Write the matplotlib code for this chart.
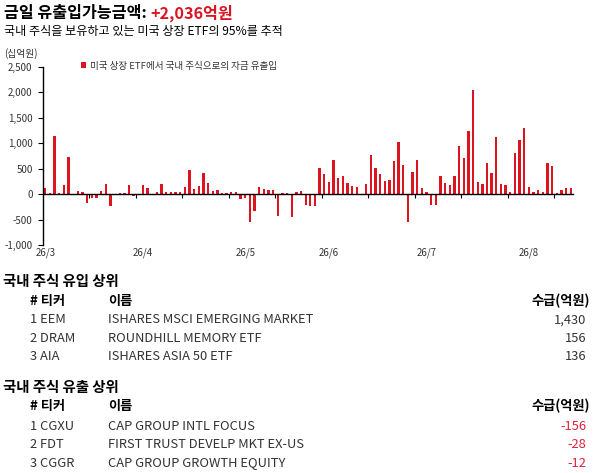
import matplotlib
matplotlib.use("Agg")
import matplotlib.pyplot as plt
from matplotlib.patches import Patch
from matplotlib.ticker import FuncFormatter, FixedLocator
import numpy as np

plt.rcParams['font.family'] = ['Noto Sans CJK KR', 'DejaVu Sans']

# ---------------- data ----------------
title_main = "금일 유출입가능금액: "
title_value = "+2,036억원"
subtitle = "국내 주식을 보유하고 있는 미국 상장 ETF의 95%를 추적"
unit_label = "(십억원)"
legend_label = "미국 상장 ETF에서 국내 주식으로의 자금 유출입"

flows = [
    111, 20, 1150, 30, 183, 735, 0, 62, 42, -180,
    -70, -85, 70, 198, -230, 0, 22, 25, 183, -45,
    0, 183, 125, 0, 42, 198, 42, 42, 42, 42,
    145, 475, 100, 160, 422, 226, 68, 82, 28, 16,
    35, 42, -105, -85, -540, -327, 141, 105, 82, 82,
    -423, 23, 23, -458, 42, 65, -205, -227, -227, 518,
    400, 240, 675, 320, 357, 222, 163, 147, 0, 204,
    773, 514, 400, 265, 280, 660, 1035, 576, -557, 439,
    662, 111, 46, -223, -223, 347, 223, 170, 347, 956,
    720, 1251, 2050, 229, 203, 603, 419, 1133, 203, 170,
    46, 812, 1068, 1303, 144, 39, 85, 39, 622, 557,
    13, 85, 124, 124,
]
month_labels = ["26/3", "26/4", "26/5", "26/6", "26/7", "26/8"]
month_index = [0, 21, 43, 61, 82, 104]
y_ticks = [-1000, -500, 0, 500, 1000, 1500, 2000, 2500]

inflow_title = "국내 주식 유입 상위"
inflow_rank = ["1", "2", "3"]
inflow_ticker = ["EEM", "DRAM", "AIA"]
inflow_name = ["ISHARES MSCI EMERGING MARKET", "ROUNDHILL MEMORY ETF", "ISHARES ASIA 50 ETF"]
inflow_value = ["1,430", "156", "136"]

outflow_title = "국내 주식 유출 상위"
outflow_rank = ["1", "2", "3"]
outflow_ticker = ["CGXU", "FDT", "CGGR"]
outflow_name = ["CAP GROUP INTL FOCUS", "FIRST TRUST DEVELP MKT EX-US", "CAP GROUP GROWTH EQUITY"]
outflow_value = ["-156", "-28", "-12"]

col_headers = ["# 티커", "이름", "수급(억원)"]

# ---------------- style ----------------
RED = "#DC1420"
TXT = "#333333"
W, H = 594, 473

fig = plt.figure(figsize=(W / 100, H / 100), dpi=100)


def fy(py):
    return 1 - py / H


def fx(px):
    return px / W


# title
t1 = fig.text(fx(4), fy(13), title_main, fontsize=11.6, fontweight='bold', color='black', va='center', ha='left')
fig.canvas.draw()
bb = t1.get_window_extent()
fig.text(bb.x1 / W, fy(13), title_value, fontsize=11.6, fontweight='bold', color=RED, va='center', ha='left')
fig.text(fx(4), fy(31), subtitle, fontsize=8.7, color='black', va='center', ha='left')

# chart
ax = fig.add_axes([fx(43), fy(245), (573 - 43) / W, (245 - 67) / H])
n = len(flows)
x = np.arange(n)
ax.bar(x, flows, width=0.5, color=RED, zorder=2)
ax.set_xlim(-0.5, n - 0.5)
ax.set_ylim(y_ticks[0], y_ticks[-1])
ax.set_yticks(y_ticks)
ax.yaxis.set_major_formatter(FuncFormatter(lambda v, p: f"{int(v):,}"))
ax.tick_params(axis='y', length=3.5, width=0.8, direction='out', pad=4, labelsize=7, labelcolor=TXT)

for s in ['top', 'right']:
    ax.spines[s].set_visible(False)
ax.spines['left'].set_linewidth(1.0)
ax.spines['bottom'].set_position(('data', 0))
ax.spines['bottom'].set_linewidth(1.0)
ax.spines['bottom'].set_zorder(3)

ax.set_xticks(month_index)
ax.set_xticklabels(month_labels)
ax.xaxis.set_minor_locator(FixedLocator(np.arange(9.5, n, 10)))
ax.tick_params(axis='x', which='major', length=0, pad=38.5, labelsize=7, labelcolor=TXT)
ax.tick_params(axis='x', which='minor', length=3, width=0.8, direction='out')

fig.text(fx(21), fy(53.5), unit_label, fontsize=7, color=TXT, ha='center', va='center')

leg = ax.legend(handles=[Patch(facecolor=RED, edgecolor='none', label=legend_label)],
                loc='center left', bbox_to_anchor=(fx(81), fy(66)), bbox_transform=fig.transFigure,
                frameon=False, fontsize=6.9, handlelength=0.55, handleheight=0.55,
                handletextpad=0.35, borderpad=0, borderaxespad=0)
for t in leg.get_texts():
    t.set_color(TXT)

# tables
def draw_table(y_head, y_cols, y_rows, title, ranks, tickers, names, values, val_color):
    fig.text(fx(3), fy(y_head), title, fontsize=10.4, fontweight='bold', color='black', va='center', ha='left')
    fig.text(fx(30), fy(y_cols), col_headers[0], fontsize=9.5, fontweight='bold', color='black', va='center', ha='left')
    fig.text(fx(108), fy(y_cols), col_headers[1], fontsize=9.5, fontweight='bold', color='black', va='center', ha='left')
    fig.text(fx(590), fy(y_cols), col_headers[2], fontsize=9.5, fontweight='bold', color='black', va='center', ha='right')
    for yr, r, tk, nm, v in zip(y_rows, ranks, tickers, names, values):
        fig.text(fx(30), fy(yr), f"{r} {tk}", fontsize=9.3, color=TXT, va='center', ha='left')
        fig.text(fx(108), fy(yr), nm, fontsize=9.3, color=TXT, va='center', ha='left')
        fig.text(fx(586), fy(yr), v, fontsize=9.3, color=val_color, va='center', ha='right')


draw_table(282, 300.5, [319.7, 338, 356.3], inflow_title, inflow_rank, inflow_ticker, inflow_name, inflow_value, TXT)
draw_table(388, 406, [426.3, 444.7, 463], outflow_title, outflow_rank, outflow_ticker, outflow_name, outflow_value, "#E0203A")

fig.savefig("out.png", dpi=100)
